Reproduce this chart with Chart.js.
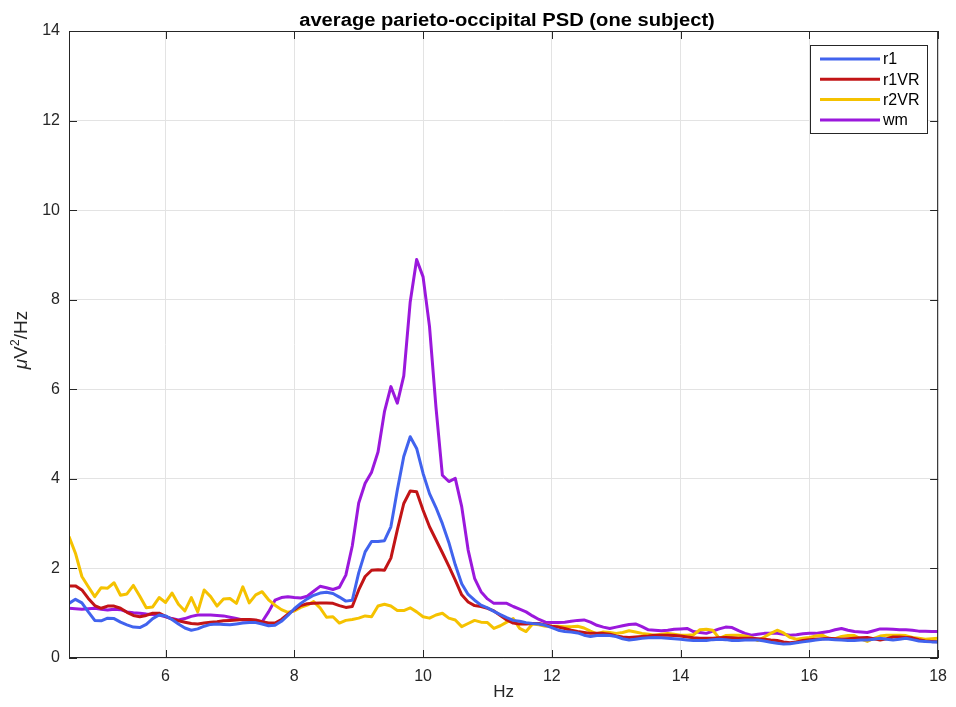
<!DOCTYPE html>
<html lang="en">
<head>
<meta charset="utf-8" />
<title>average parieto-occipital PSD (one subject)</title>
<style>
*{margin:0;padding:0;box-sizing:border-box}
body{background:#fff;width:956px;height:707px;overflow:hidden}
#wrap{position:relative;width:956px;height:707px}
</style>
</head>
<body>
<div id="wrap"><canvas id="psd" width="956" height="707"></canvas></div>

<script src="https://cdn.jsdelivr.net/npm/chart.js@4.4.1/dist/chart.umd.min.js"></script>
<script>
/* ─── data (Hz, µV²/Hz) ─────────────────────────────── */
const freqs = [
  4.5,4.6,4.7,4.8,4.9,5.0,5.1,5.2,5.3,5.4,
  5.5,5.6,5.7,5.8,5.9,6.0,6.1,6.2,6.3,6.4,
  6.5,6.6,6.7,6.8,6.9,7.0,7.1,7.2,7.3,7.4,
  7.5,7.6,7.7,7.8,7.9,8.0,8.1,8.2,8.3,8.4,
  8.5,8.6,8.7,8.8,8.9,9.0,9.1,9.2,9.3,9.4,
  9.5,9.6,9.7,9.8,9.9,10.0,10.1,10.2,10.3,10.4,
  10.5,10.6,10.7,10.8,10.9,11.0,11.1,11.2,11.3,11.4,
  11.5,11.6,11.7,11.8,11.9,12.0,12.1,12.2,12.3,12.4,
  12.5,12.6,12.7,12.8,12.9,13.0,13.1,13.2,13.3,13.4,
  13.5,13.6,13.7,13.8,13.9,14.0,14.1,14.2,14.3,14.4,
  14.5,14.6,14.7,14.8,14.9,15.0,15.1,15.2,15.3,15.4,
  15.5,15.6,15.7,15.8,15.9,16.0,16.1,16.2,16.3,16.4,
  16.5,16.6,16.7,16.8,16.9,17.0,17.1,17.2,17.3,17.4,
  17.5,17.6,17.7,17.8,17.9,18.0
];

const r1 = [
  1.22,1.31,1.23,1.03,0.84,0.83,0.89,0.88,0.80,0.74,
  0.69,0.68,0.75,0.88,0.96,0.94,0.86,0.76,0.67,0.62,
  0.65,0.71,0.75,0.76,0.75,0.74,0.76,0.78,0.79,0.79,
  0.76,0.72,0.73,0.82,0.95,1.10,1.22,1.32,1.40,1.45,
  1.47,1.44,1.36,1.27,1.29,1.90,2.37,2.60,2.60,2.62,
  2.93,3.75,4.50,4.94,4.68,4.12,3.67,3.36,3.00,2.58,
  2.08,1.66,1.42,1.29,1.18,1.12,1.04,0.97,0.90,0.84,
  0.82,0.79,0.77,0.76,0.73,0.68,0.62,0.59,0.58,0.56,
  0.51,0.48,0.50,0.51,0.50,0.48,0.43,0.40,0.42,0.44,
  0.45,0.46,0.45,0.44,0.43,0.42,0.40,0.39,0.39,0.39,
  0.41,0.42,0.41,0.39,0.39,0.40,0.40,0.40,0.38,0.35,
  0.33,0.31,0.32,0.34,0.36,0.38,0.40,0.42,0.42,0.41,
  0.40,0.39,0.39,0.40,0.40,0.42,0.44,0.42,0.40,0.42,
  0.44,0.41,0.38,0.37,0.36,0.36
];

const r1VR = [
  1.61,1.61,1.52,1.33,1.17,1.11,1.16,1.16,1.11,1.02,
  0.95,0.92,0.95,1.00,1.00,0.93,0.87,0.83,0.80,0.77,
  0.76,0.78,0.80,0.81,0.83,0.84,0.85,0.86,0.86,0.85,
  0.81,0.78,0.78,0.86,0.98,1.08,1.17,1.21,1.22,1.23,
  1.23,1.22,1.17,1.13,1.15,1.52,1.82,1.96,1.97,1.96,
  2.23,2.86,3.45,3.73,3.71,3.30,2.93,2.64,2.35,2.05,
  1.74,1.41,1.25,1.17,1.15,1.11,1.05,0.95,0.85,0.78,
  0.76,0.76,0.77,0.77,0.74,0.71,0.69,0.66,0.62,0.59,
  0.57,0.55,0.55,0.55,0.53,0.49,0.47,0.46,0.47,0.48,
  0.49,0.51,0.51,0.51,0.50,0.49,0.47,0.45,0.44,0.44,
  0.44,0.45,0.46,0.45,0.44,0.44,0.44,0.43,0.42,0.40,
  0.39,0.36,0.34,0.36,0.39,0.41,0.42,0.43,0.44,0.43,
  0.42,0.43,0.44,0.45,0.46,0.43,0.40,0.43,0.47,0.47,
  0.46,0.45,0.41,0.38,0.37,0.36
];

const r2VR = [
  2.71,2.34,1.82,1.59,1.37,1.57,1.56,1.68,1.40,1.43,
  1.62,1.38,1.12,1.14,1.35,1.24,1.45,1.20,1.05,1.35,
  1.03,1.52,1.37,1.16,1.32,1.33,1.22,1.59,1.23,1.41,
  1.48,1.30,1.18,1.08,1.02,1.05,1.13,1.18,1.26,1.12,
  0.91,0.92,0.78,0.84,0.86,0.89,0.94,0.92,1.16,1.20,
  1.16,1.06,1.06,1.12,1.03,0.92,0.89,0.96,1.00,0.89,
  0.85,0.70,0.77,0.84,0.80,0.79,0.66,0.72,0.80,0.88,
  0.66,0.59,0.76,0.74,0.71,0.71,0.71,0.70,0.70,0.71,
  0.67,0.60,0.54,0.58,0.57,0.55,0.57,0.61,0.58,0.55,
  0.53,0.51,0.53,0.55,0.53,0.51,0.51,0.52,0.63,0.64,
  0.62,0.44,0.50,0.51,0.51,0.49,0.46,0.39,0.47,0.55,
  0.62,0.56,0.46,0.42,0.44,0.46,0.49,0.51,0.44,0.43,
  0.48,0.50,0.50,0.43,0.37,0.44,0.49,0.51,0.51,0.51,
  0.50,0.46,0.44,0.42,0.43,0.44
];

const wm = [
  1.11,1.10,1.09,1.10,1.11,1.09,1.07,1.09,1.08,1.03,
  1.01,1.00,0.98,0.97,0.96,0.92,0.88,0.85,0.88,0.93,
  0.96,0.96,0.96,0.95,0.94,0.91,0.88,0.85,0.85,0.84,
  0.81,1.03,1.29,1.35,1.37,1.35,1.34,1.38,1.49,1.60,
  1.57,1.53,1.58,1.85,2.50,3.46,3.90,4.15,4.60,5.50,
  6.06,5.69,6.30,7.95,8.90,8.51,7.40,5.60,4.08,3.94,
  4.01,3.38,2.41,1.78,1.48,1.32,1.22,1.22,1.22,1.15,
  1.09,1.03,0.94,0.86,0.80,0.79,0.79,0.80,0.82,0.84,
  0.85,0.80,0.73,0.69,0.66,0.69,0.72,0.75,0.76,0.70,
  0.63,0.62,0.61,0.62,0.64,0.65,0.66,0.59,0.57,0.55,
  0.60,0.65,0.69,0.68,0.61,0.55,0.51,0.53,0.55,0.55,
  0.55,0.53,0.51,0.52,0.54,0.55,0.55,0.57,0.59,0.63,
  0.66,0.62,0.59,0.58,0.57,0.61,0.65,0.65,0.64,0.63,
  0.63,0.62,0.60,0.60,0.59,0.59
];

const seriesNames = ['r1','r1VR','r2VR','wm'];
const seriesColors = ['#4163ee','#c21416','#f5c200','#9b18dc'];
const xTicks = [6,8,10,12,14,16,18];
const yTicks = [0,2,4,6,8,10,12,14];

const AXIS = '#262626';
const FONT = '"Liberation Sans", Arial, Helvetica, sans-serif';

/* box, inward ticks, title, axis labels and legend, MATLAB-like */
const matlabAxes = {
  id:'matlabAxes',
  afterDraw(chart){
    const {ctx, chartArea:a, scales:{x,y}} = chart;
    ctx.save();
    ctx.strokeStyle = AXIS;
    ctx.lineWidth = 1;
    ctx.strokeRect(a.left+0.5, a.top+0.5, a.right-a.left-1, a.bottom-a.top-1);

    ctx.beginPath();
    xTicks.forEach(v=>{
      const px = Math.round(x.getPixelForValue(v))+0.5;
      ctx.moveTo(px,a.bottom); ctx.lineTo(px,a.bottom-8);
      ctx.moveTo(px,a.top);    ctx.lineTo(px,a.top+8);
    });
    yTicks.forEach(v=>{
      const py = Math.round(y.getPixelForValue(v))+0.5;
      ctx.moveTo(a.left,py);  ctx.lineTo(a.left+8,py);
      ctx.moveTo(a.right,py); ctx.lineTo(a.right-8,py);
    });
    ctx.stroke();

    // title (source text is a little wide, so stretch it)
    ctx.fillStyle = '#000';
    ctx.font = `bold 18px ${FONT}`;
    ctx.textAlign = 'center';
    ctx.textBaseline = 'alphabetic';
    ctx.save();
    ctx.translate(507, 26);
    ctx.scale(1.12, 1);
    ctx.fillText('average parieto-occipital PSD (one subject)', 0, 0);
    ctx.restore();

    // x label
    ctx.fillStyle = AXIS;
    ctx.font = `17px ${FONT}`;
    ctx.fillText('Hz', (a.left+a.right)/2, 697);

    // y label: italic mu, V, superscript 2, /Hz
    const parts = [
      {t:'\u03bc', f:`italic 19px ${FONT}`, dy:0},
      {t:'V',      f:`19px ${FONT}`, dy:0},
      {t:'2',      f:`12px ${FONT}`, dy:-8},
      {t:'/Hz',    f:`19px ${FONT}`, dy:0}
    ];
    let total = 0;
    parts.forEach(p=>{ ctx.font=p.f; p.w=ctx.measureText(p.t).width; total+=p.w; });
    ctx.save();
    ctx.translate(27, 340);
    ctx.rotate(-Math.PI/2);
    ctx.textAlign = 'left';
    let cx = -total/2;
    parts.forEach(p=>{ ctx.font=p.f; ctx.fillText(p.t, cx, p.dy); cx+=p.w; });
    ctx.restore();

    // legend
    const lx=810, ly=45, lw=117, lh=88;
    ctx.fillStyle='#fff';
    ctx.fillRect(lx,ly,lw,lh);
    ctx.strokeStyle=AXIS;
    ctx.lineWidth=1;
    ctx.strokeRect(lx+0.5,ly+0.5,lw,lh);
    ctx.font = `16px ${FONT}`;
    ctx.textAlign='left';
    ctx.textBaseline='middle';
    chart.data.datasets.forEach((ds,i)=>{
      const ry = ly+14+i*20.3;
      ctx.strokeStyle = ds.borderColor;
      ctx.lineWidth = 3;
      ctx.beginPath(); ctx.moveTo(lx+10,ry); ctx.lineTo(lx+70,ry); ctx.stroke();
      ctx.fillStyle='#000';
      ctx.fillText(ds.label, lx+73, ry+1);
    });
    ctx.restore();
  }
};

const dataRows = [r1, r1VR, r2VR, wm];

new Chart(document.getElementById('psd'),{
  type:'line',
  data:{
    labels:freqs,
    datasets:dataRows.map((d,i)=>({
      label:seriesNames[i],
      data:d,
      borderColor:seriesColors[i],
      backgroundColor:seriesColors[i],
      borderWidth:3,
      pointRadius:0,
      tension:0,
      borderJoinStyle:'round'
    }))
  },
  options:{
    responsive:false,
    animation:false,
    layout:{padding:{top:31,right:14,left:0,bottom:0}},
    plugins:{legend:{display:false},title:{display:false},tooltip:{enabled:false}},
    scales:{
      x:{
        type:'linear',
        min:4.5, max:18,
        afterBuildTicks:s=>{ s.ticks = xTicks.map(v=>({value:v})); },
        afterFit:s=>{ s.height = 49; },
        grid:{color:'#e3e3e3', drawTicks:false},
        border:{display:false},
        ticks:{color:AXIS, font:{size:16, family:FONT}, padding:9, maxRotation:0}
      },
      y:{
        min:0, max:14,
        afterBuildTicks:s=>{ s.ticks = yTicks.map(v=>({value:v})); },
        afterFit:s=>{ s.width = 69; },
        grid:{color:'#e3e3e3', drawTicks:false},
        border:{display:false},
        ticks:{color:AXIS, font:{size:16, family:FONT}, padding:9}
      }
    }
  },
  plugins:[matlabAxes]
});
</script>
</body>
</html>
